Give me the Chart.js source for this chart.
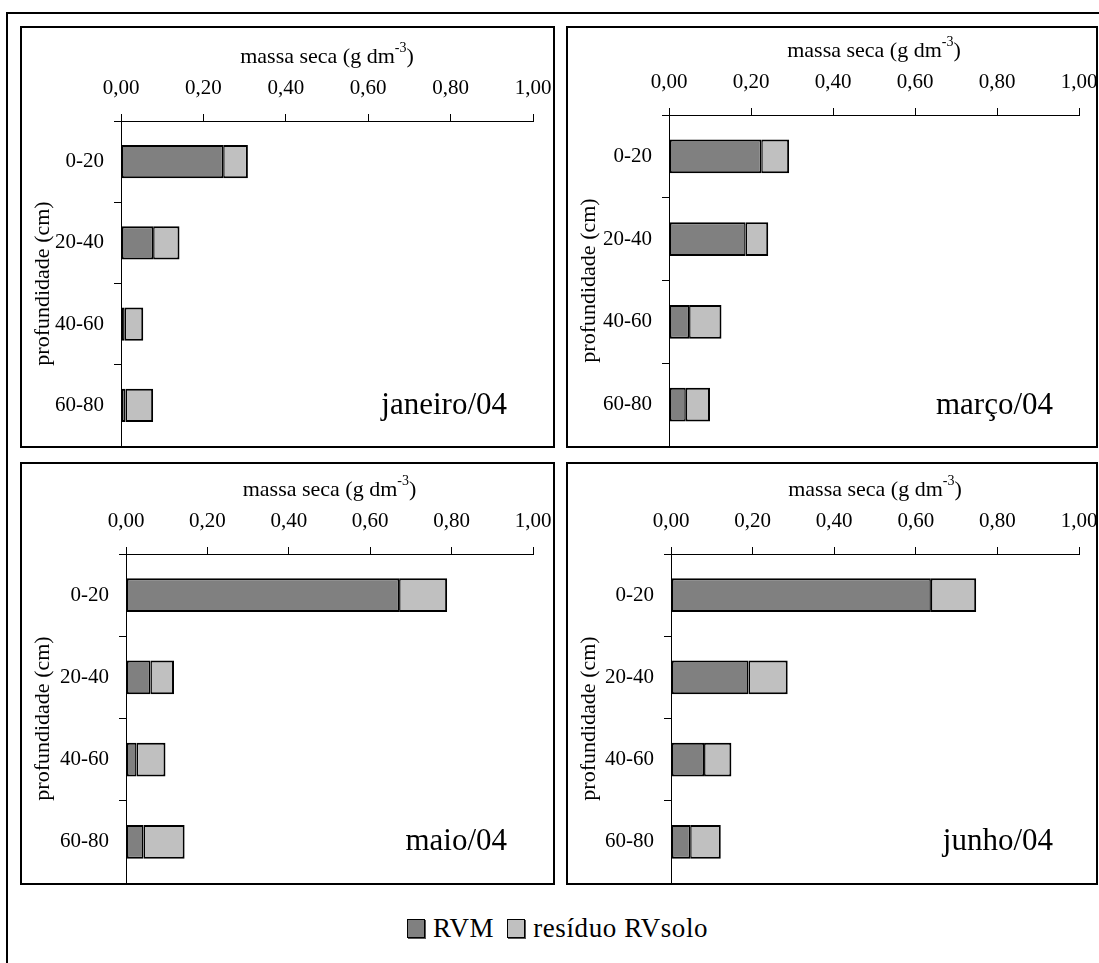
<!DOCTYPE html>
<html>
<head>
<meta charset="utf-8">
<script src="https://cdn.jsdelivr.net/npm/chart.js@4.4.1/dist/chart.umd.min.js"></script>
<style>
  html, body { margin: 0; padding: 0; background: #fff; overflow: hidden; }
  body { width: 1099px; height: 963px; position: relative; font-family: "Liberation Serif", "Times New Roman", serif; }
  .frame { position: absolute; left: 6px; top: 12px; width: 1200px; height: 1000px; border: 2px solid #000; }
  .panel { position: absolute; border: 2px solid #000; box-sizing: border-box; background: #fff; }
  .panel canvas { position: absolute; left: 0; top: 0; }
  #legend { position: absolute; left: 407px; top: 913px; display: flex; align-items: center; font-size: 27px; letter-spacing: 0.6px; color: #000; white-space: nowrap; }
  #legend .sq { display: inline-block; width: 16px; height: 17px; border: 1px solid #000; box-shadow: 1px 1px 0 #555; margin-right: 8px; }
  #legend .item { display: flex; align-items: center; margin-right: 13px; }
</style>
</head>
<body>
<div class="frame"></div>
<div id="panels"></div>
<div id="legend"></div>

<script>
// data
const depths = ['0-20', '20-40', '40-60', '60-80'];
const months = ['janeiro/04', 'março/04', 'maio/04', 'junho/04'];
const seriesNames = ['RVM', 'resíduo RVsolo'];
const rvm = [
  [0.248, 0.078, 0.009, 0.011],
  [0.225, 0.187, 0.049, 0.041],
  [0.671, 0.060, 0.026, 0.043],
  [0.637, 0.190, 0.081, 0.047]
];
const residuo = [
  [0.060, 0.064, 0.045, 0.067],
  [0.068, 0.055, 0.079, 0.059],
  [0.118, 0.058, 0.071, 0.101],
  [0.111, 0.096, 0.067, 0.075]
];
const xTickLabels = ['0,00', '0,20', '0,40', '0,60', '0,80', '1,00'];
const xTitle = 'massa seca (g dm';
const xTitleSup = '-3';
const yTitle = 'profundidade (cm)';

const colors = ['#808080', '#c0c0c0'];
const FONT = '"Liberation Serif", "Times New Roman", serif';

// panel boxes (page pixels) and axis placement inside each canvas
const panelBoxes = [
  { left: 20, top: 26, w: 535, h: 422, axisX: 99, axisY: 93 },
  { left: 566, top: 26, w: 532, h: 422, axisX: 101, axisY: 87 },
  { left: 20, top: 462, w: 535, h: 423, axisX: 104, axisY: 90 },
  { left: 566, top: 462, w: 532, h: 423, axisX: 103, axisY: 90 }
];

// titles and month label drawn on the canvas
const panelText = {
  id: 'panelText',
  afterDraw(chart, args, opts) {
    const ctx = chart.ctx;
    const a = chart.chartArea;
    ctx.save();
    ctx.fillStyle = '#000';
    ctx.textBaseline = 'middle';

    // x title with superscript
    ctx.font = '22px ' + FONT;
    const w1 = ctx.measureText(xTitle).width;
    const w3 = ctx.measureText(')').width;
    ctx.font = '14px ' + FONT;
    const w2 = ctx.measureText(xTitleSup).width;
    let x = (a.left + a.right) / 2 - (w1 + w2 + w3) / 2;
    const ty = a.top - 64;
    ctx.textAlign = 'left';
    ctx.font = '22px ' + FONT;
    ctx.fillText(xTitle, x, ty);
    ctx.font = '14px ' + FONT;
    ctx.fillText(xTitleSup, x + w1, ty - 9);
    ctx.font = '22px ' + FONT;
    ctx.fillText(')', x + w1 + w2, ty);

    // y title
    ctx.save();
    ctx.translate(21, (a.top + a.bottom) / 2);
    ctx.rotate(-Math.PI / 2);
    ctx.textAlign = 'center';
    ctx.fillText(yTitle, 0, 0);
    ctx.restore();

    // month label
    ctx.font = '31px ' + FONT;
    ctx.textAlign = 'right';
    ctx.textBaseline = 'alphabetic';
    ctx.fillText(opts.month, a.right - 26, 386);
    ctx.restore();
  }
};

function makePanel(i) {
  const box = panelBoxes[i];
  const div = document.createElement('div');
  div.className = 'panel';
  div.style.left = box.left + 'px';
  div.style.top = box.top + 'px';
  div.style.width = box.w + 'px';
  div.style.height = box.h + 'px';
  const canvas = document.createElement('canvas');
  canvas.width = box.w - 4;
  canvas.height = box.h - 4;
  div.appendChild(canvas);
  document.getElementById('panels').appendChild(div);

  const rightPad = canvas.width - 511;

  new Chart(canvas.getContext('2d'), {
    type: 'bar',
    data: {
      labels: depths,
      datasets: [
        {
          label: seriesNames[0],
          data: rvm[i],
          backgroundColor: colors[0],
          borderColor: '#000',
          borderWidth: { left: 2, top: 2, bottom: 2, right: 1.5 },
          borderSkipped: false
        },
        {
          label: seriesNames[1],
          data: residuo[i],
          backgroundColor: colors[1],
          borderColor: '#000',
          borderWidth: { left: 1.5, top: 2, bottom: 2, right: 2 },
          borderSkipped: false
        }
      ]
    },
    options: {
      indexAxis: 'y',
      responsive: false,
      animation: false,
      devicePixelRatio: 1,
      layout: { padding: { left: 0, top: 0, right: rightPad, bottom: 0 } },
      datasets: { bar: { categoryPercentage: 1, barPercentage: 0.41 } },
      plugins: {
        legend: { display: false },
        tooltip: { enabled: false },
        panelText: { month: months[i] }
      },
      scales: {
        x: {
          position: 'top',
          stacked: true,
          min: 0,
          max: 1,
          ticks: {
            stepSize: 0.2,
            color: '#000',
            padding: 13,
            font: { family: FONT, size: 21 },
            callback: (v, idx) => xTickLabels[idx]
          },
          grid: { drawOnChartArea: false, tickLength: 7, color: '#000' },
          border: { display: true, color: '#000', width: 1 },
          afterFit: s => { s.height = box.axisY; s.paddingLeft = 0; s.paddingRight = 0; }
        },
        y: {
          stacked: true,
          ticks: {
            color: '#000',
            padding: 10,
            font: { family: FONT, size: 21 }
          },
          grid: { offset: true, drawOnChartArea: false, tickLength: 7, color: '#000' },
          border: { display: true, color: '#000', width: 1 },
          afterFit: s => { s.width = box.axisX; s.paddingTop = 0; s.paddingBottom = 0; }
        }
      }
    },
    plugins: [panelText]
  });
}

for (let i = 0; i < months.length; i++) makePanel(i);

// shared legend
const legend = document.getElementById('legend');
seriesNames.forEach((name, k) => {
  const item = document.createElement('span');
  item.className = 'item';
  const sq = document.createElement('span');
  sq.className = 'sq';
  sq.style.background = colors[k];
  item.appendChild(sq);
  item.appendChild(document.createTextNode(name));
  legend.appendChild(item);
});
</script>
</body>
</html>
